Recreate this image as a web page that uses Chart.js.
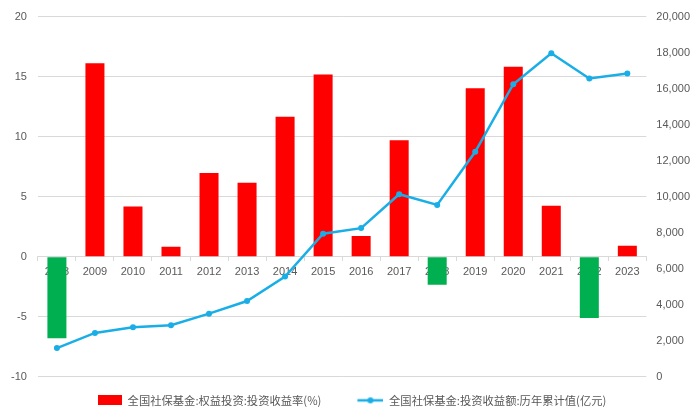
<!DOCTYPE html>
<html lang="zh">
<head>
    <meta charset="UTF-8">
    <title>全国社保基金投资收益</title>
    <script src="https://cdn.jsdelivr.net/npm/chart.js"></script>
    <style>
        body { margin: 0; padding: 0; background: white; }
        .chart-box { width: 700px; height: 420px; }
    </style>
</head>
<body>
    <div class="chart-box">
        <canvas id="fundChart"></canvas>
    </div>

    <script>
        const years = ['2008', '2009', '2010', '2011', '2012', '2013', '2014', '2015',
                       '2016', '2017', '2018', '2019', '2020', '2021', '2022', '2023'];
        // 权益投资收益率 (%)
        const equityReturn = [-6.79, 16.1, 4.17, 0.83, 6.96, 6.16, 11.66, 15.16,
                              1.71, 9.7, -2.35, 14.03, 15.82, 4.23, -5.11, 0.91];
        // 投资收益额 历年累计值 (亿元)
        const cumulativeIncome = [1590, 2430, 2750, 2860, 3500, 4200, 5560, 7940,
                                  8250, 10130, 9540, 12490, 16240, 17960, 16560, 16830];
        const barLabel = '全国社保基金:权益投资:投资收益率(%)';
        const lineLabel = '全国社保基金:投资收益额:历年累计值(亿元)';

        const RED = '#ff0000';
        const GREEN = '#00b050';
        const BLUE = '#1aaee6';
        const TEXT = '#595959';
        const GRID = '#d9d9d9';

        // legend markers (blank space on the left gives the gap between items)
        const MARK_W = 44;
        function barMarker() {
            const c = document.createElement('canvas');
            c.width = MARK_W; c.height = 10;
            const g = c.getContext('2d');
            g.fillStyle = RED;
            g.fillRect(MARK_W - 24, 0, 24, 10);
            return c;
        }
        function lineMarker() {
            const c = document.createElement('canvas');
            c.width = MARK_W; c.height = 10;
            const g = c.getContext('2d');
            g.strokeStyle = BLUE;
            g.lineWidth = 2.5;
            g.beginPath(); g.moveTo(MARK_W - 26, 5); g.lineTo(MARK_W, 5); g.stroke();
            g.fillStyle = BLUE;
            g.beginPath(); g.arc(MARK_W - 13, 5, 3, 0, Math.PI * 2); g.fill();
            return c;
        }
        const markers = [barMarker(), lineMarker()];

        const tickFont = { family: 'Liberation Sans', size: 11, lineHeight: 1 };

        const ctx = document.getElementById('fundChart').getContext('2d');
        new Chart(ctx, {
            data: {
                labels: years,
                datasets: [
                    {
                        type: 'line',
                        label: lineLabel,
                        data: cumulativeIncome,
                        yAxisID: 'y1',
                        borderColor: BLUE,
                        backgroundColor: BLUE,
                        borderWidth: 2.5,
                        pointRadius: 3,
                        pointBackgroundColor: BLUE,
                        pointBorderWidth: 0,
                        tension: 0,
                        order: 0
                    },
                    {
                        type: 'bar',
                        label: barLabel,
                        data: equityReturn,
                        yAxisID: 'y',
                        backgroundColor: equityReturn.map(v => v < 0 ? GREEN : RED),
                        categoryPercentage: 1,
                        barPercentage: 0.5,
                        order: 1
                    }
                ]
            },
            options: {
                responsive: true,
                maintainAspectRatio: false,
                animation: false,
                layout: { autoPadding: false, padding: { left: 0, right: 0, top: 6, bottom: 4 } },
                scales: {
                    x: {
                        position: { y: 0 },
                        z: 1,
                        grid: { display: true, drawOnChartArea: false, offset: true, tickLength: 4, color: GRID },
                        border: { color: GRID },
                        ticks: { color: TEXT, font: tickFont, padding: 6, maxRotation: 0 }
                    },
                    y: {
                        position: 'left',
                        min: -10,
                        max: 20,
                        ticks: { stepSize: 5, color: TEXT, font: tickFont, padding: 11 },
                        grid: { color: GRID, drawTicks: false },
                        border: { display: false }
                    },
                    y1: {
                        position: 'right',
                        min: 0,
                        max: 20000,
                        ticks: {
                            stepSize: 2000,
                            color: TEXT,
                            font: tickFont,
                            padding: 10,
                            callback: v => v.toLocaleString('en-US')
                        },
                        grid: { display: false, drawTicks: false },
                        border: { display: false }
                    }
                },
                plugins: {
                    legend: {
                        position: 'bottom',
                        fullSize: false,
                        labels: {
                            usePointStyle: true,
                            pointStyleWidth: MARK_W,
                            color: TEXT,
                            padding: 18,
                            font: { family: 'Noto Sans CJK SC', size: 11.3 },
                            generateLabels: chart => [barLabel, lineLabel].map((text, i) => ({
                                text: text,
                                pointStyle: markers[i],
                                fontColor: TEXT,
                                datasetIndex: i === 0 ? 1 : 0,
                                hidden: false,
                                lineWidth: 0
                            }))
                        }
                    },
                    tooltip: { enabled: false }
                }
            }
        });
    </script>
</body>
</html>
